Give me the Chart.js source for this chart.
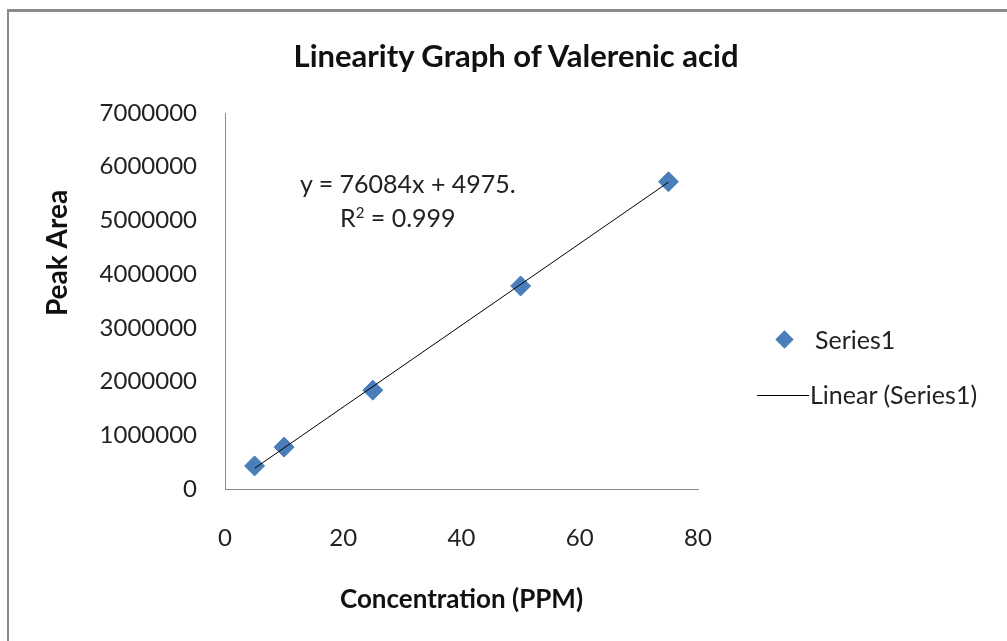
<!DOCTYPE html>
<html>
<head>
<meta charset="utf-8">
<script src="https://cdn.jsdelivr.net/npm/chart.js@4"></script>
<style>
  body { margin: 0; background: #fff; }
  #wrap { position: relative; width: 1007px; height: 641px; overflow: hidden; }
  #frame { position: absolute; left: 7px; top: 9px; width: 1100px; height: 700px;
           border-left: 2px solid #8a8a8a; border-top: 3px solid #8a8a8a; }
  canvas { position: absolute; left: 0; top: 0; }
  .txt { position: absolute; font-family: Lato, sans-serif; font-size: 25px; color: #222; white-space: nowrap; line-height: 1; }
  #title { position: absolute; left: 516px; top: 40px; transform: translateX(-50%); font-family: Lato, sans-serif;
           font-weight: bold; font-size: 31px; color: #111; white-space: nowrap; line-height: 1; }
  #legend { position: absolute; left: 757px; top: 322px; font-family: Lato, sans-serif; font-size: 25px; color: #222; white-space: nowrap; line-height: 1; }
  .diamond { position: absolute; left: 21px; top: 11px; width: 13px; height: 13px; background: #4a7ebb; transform: rotate(45deg); }
  .dash { position: absolute; left: 0; top: 73px; width: 52px; border-top: 1px solid #000; }
</style>
</head>
<body>
<div id="wrap">
  <div id="frame"></div>
  <canvas id="chart" width="1007" height="641"></canvas>
  <div id="title">Linearity Graph of Valerenic acid</div>
  <div class="txt" style="left:300px; top:171px;">y = 76084x + 4975.</div>
  <div class="txt" style="left:340px; top:205px;">R<sup style="font-size:15px; vertical-align: 9px;">2</sup> = 0.999</div>
  <div id="legend">
    <div class="diamond"></div>
    <div style="position:absolute; left:58px; top:5px;">Series1</div>
    <div class="dash"></div>
    <div style="position:absolute; left:53px; top:60px;">Linear (Series1)</div>
  </div>
</div>
<script>
// values
var concentration = [5, 10, 25, 50, 75];
var peakArea = [430000, 780000, 1840000, 3780000, 5720000];
// trendline ends (y = 76084x + 4975 at x = 5 and x = 75)
var trendX = [5, 75];
var trendY = [385395, 5711275];
var xTicks = [0, 20, 40, 60, 80];
var yTicks = [0, 1000000, 2000000, 3000000, 4000000, 5000000, 6000000, 7000000];

var points = [];
for (var i = 0; i < concentration.length; i++) {
    points.push({x: concentration[i], y: peakArea[i]});
}
var trend = [];
for (var i = 0; i < trendX.length; i++) {
    trend.push({x: trendX[i], y: trendY[i]});
}

// y axis title sits a bit above the middle of the axis, like the original
var yTitlePlugin = {
    id: 'yTitle',
    afterDraw: function (chart) {
        var ctx = chart.ctx;
        ctx.save();
        ctx.translate(58, 253);
        ctx.rotate(-Math.PI / 2);
        ctx.font = 'bold 28px Lato';
        ctx.fillStyle = '#111';
        ctx.textAlign = 'center';
        ctx.textBaseline = 'middle';
        ctx.fillText('Peak Area', 0, 0);
        ctx.restore();
    }
};

var chartEl = document.getElementById('chart');
var myChart = new Chart(chartEl, {
    type: 'scatter',
    data: {
        datasets: [{
            label: 'Linear (Series1)',
            type: 'line',
            data: trend,
            borderColor: '#000',
            borderWidth: 1,
            pointRadius: 0,
            fill: false
        }, {
            label: 'Series1',
            data: points,
            pointStyle: 'rectRot',
            pointRadius: 10,
            backgroundColor: '#4a7ebb',
            borderColor: '#4a7ebb'
        }]
    },
    options: {
        responsive: false,
        animation: false,
        layout: { padding: { left: 0, right: 309, top: 113, bottom: 0 } },
        plugins: {
            legend: { display: false },
            tooltip: { enabled: false },
            title: { display: false }
        },
        scales: {
            x: {
                type: 'linear',
                min: 0,
                max: 80,
                afterBuildTicks: function (scale) {
                    scale.ticks = xTicks.map(function (v) { return {value: v}; });
                },
                afterFit: function (scale) { scale.height = 152; },
                grid: { display: false, drawTicks: false },
                border: { display: true, color: '#8a8a8a', width: 1 },
                ticks: { color: '#222', font: { family: 'Lato', size: 24 }, padding: 35 },
                title: {
                    display: true,
                    text: 'Concentration (PPM)',
                    color: '#111',
                    font: { family: 'Lato', size: 26, weight: 'bold' },
                    padding: { top: 0, bottom: 26 }
                }
            },
            y: {
                type: 'linear',
                min: 0,
                max: 7000000,
                afterBuildTicks: function (scale) {
                    scale.ticks = yTicks.map(function (v) { return {value: v}; });
                },
                afterFit: function (scale) { scale.width = 225; },
                grid: { display: false, drawTicks: false },
                border: { display: true, color: '#8a8a8a', width: 1 },
                ticks: {
                    color: '#222',
                    font: { family: 'Lato', size: 24 },
                    padding: 28,
                    callback: function (v) { return String(v); }
                }
            }
        }
    },
    plugins: [yTitlePlugin]
});
</script>
</body>
</html>
